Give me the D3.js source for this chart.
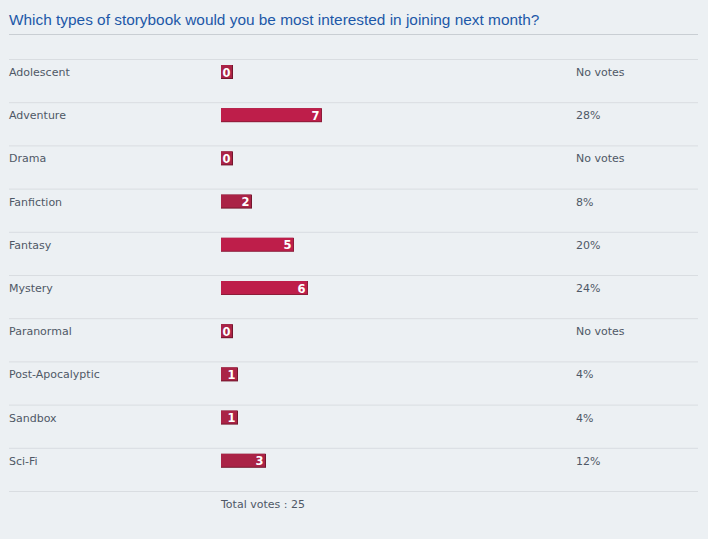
<!DOCTYPE html>
<html>
<head>
<meta charset="utf-8">
<script src="https://cdn.jsdelivr.net/npm/d3@7"></script>
<style>
  html, body { margin: 0; padding: 0; background: #ecf0f3; }
  svg { display: block; }
</style>
</head>
<body>
<div id="chart"></div>
<script>
  let title = 'Which types of storybook would you be most interested in joining next month?';
  let options = ['Adolescent', 'Adventure', 'Drama', 'Fanfiction', 'Fantasy', 'Mystery',
    'Paranormal', 'Post-Apocalyptic', 'Sandbox', 'Sci-Fi'];
  let votes = [0, 7, 0, 2, 5, 6, 0, 1, 1, 3];
  let totalVotes = 25;

  let width = 708, height = 539;

  let svg = d3.select('#chart').append('svg')
    .attr('width', width)
    .attr('height', height);

  svg.append('rect')
    .attr('width', width).attr('height', height)
    .attr('fill', '#ecf0f3');

  // title + rule under it
  svg.append('text')
    .attr('x', 9).attr('y', 25)
    .attr('font-family', 'Liberation Sans, Arial, sans-serif')
    .attr('font-size', 15.4)
    .attr('fill', '#1d58a8')
    .text(title);

  svg.append('line')
    .attr('x1', 9).attr('x2', 698)
    .attr('y1', 34.5).attr('y2', 34.5)
    .attr('stroke', '#c9ced3');

  let yScale = d3.scaleBand()
    .domain(options)
    .range([59, 491]);

  // bar width driven by the percentage, like the forum css
  let xScale = d3.scaleLinear()
    .domain([0, 100])
    .range([0, 350]);

  let data = options.map((o, i) => {
    let pct = totalVotes ? Math.round(votes[i] / totalVotes * 100) : 0;
    return {option: o, votes: votes[i], pct: pct};
  });

  let barColor = function (d) {
    return d.pct < 20 ? '#aa2346' : '#be1e4a';
  };
  let borderColor = function (d) {
    return d.pct < 20 ? '#74162c' : '#8c1c38';
  };

  let font = 'DejaVu Sans, Verdana, sans-serif';

  let rows = svg.selectAll('.row')
    .data(data)
    .enter()
    .append('g')
    .attr('class', 'row')
    .attr('transform', d => 'translate(0,' + yScale(d.option) + ')');

  rows.append('line')
    .attr('x1', 9).attr('x2', 698)
    .attr('y1', 0.5).attr('y2', 0.5)
    .attr('stroke', '#d9dde1');

  rows.append('text')
    .attr('x', 9).attr('y', 17)
    .attr('font-family', font)
    .attr('font-size', 11)
    .attr('fill', '#4f5866')
    .text(d => d.option);

  let barW = d => Math.max(12, xScale(d.pct) + 3);

  rows.append('rect')
    .attr('x', 221).attr('y', 6)
    .attr('width', barW)
    .attr('height', 14)
    .attr('fill', borderColor);

  rows.append('rect')
    .attr('x', 221).attr('y', 6)
    .attr('width', d => barW(d) - 1)
    .attr('height', 13)
    .attr('fill', barColor);

  rows.append('text')
    .attr('x', d => 221 + barW(d) - 2.5)
    .attr('y', 17.5)
    .attr('text-anchor', 'end')
    .attr('font-family', font)
    .attr('font-size', 11.5)
    .attr('font-weight', 'bold')
    .attr('fill', '#ffffff')
    .text(d => d.votes);

  rows.append('text')
    .attr('x', 576).attr('y', 17)
    .attr('font-family', font)
    .attr('font-size', 11)
    .attr('fill', '#4f5866')
    .text(d => d.votes ? d.pct + '%' : 'No votes');

  let bottom = yScale.range()[1];
  svg.append('line')
    .attr('x1', 9).attr('x2', 698)
    .attr('y1', bottom + 0.5).attr('y2', bottom + 0.5)
    .attr('stroke', '#d9dde1');

  svg.append('text')
    .attr('x', 221).attr('y', bottom + 17)
    .attr('font-family', font)
    .attr('font-size', 11)
    .attr('fill', '#4f5866')
    .text('Total votes : ' + totalVotes);
</script>
</body>
</html>
